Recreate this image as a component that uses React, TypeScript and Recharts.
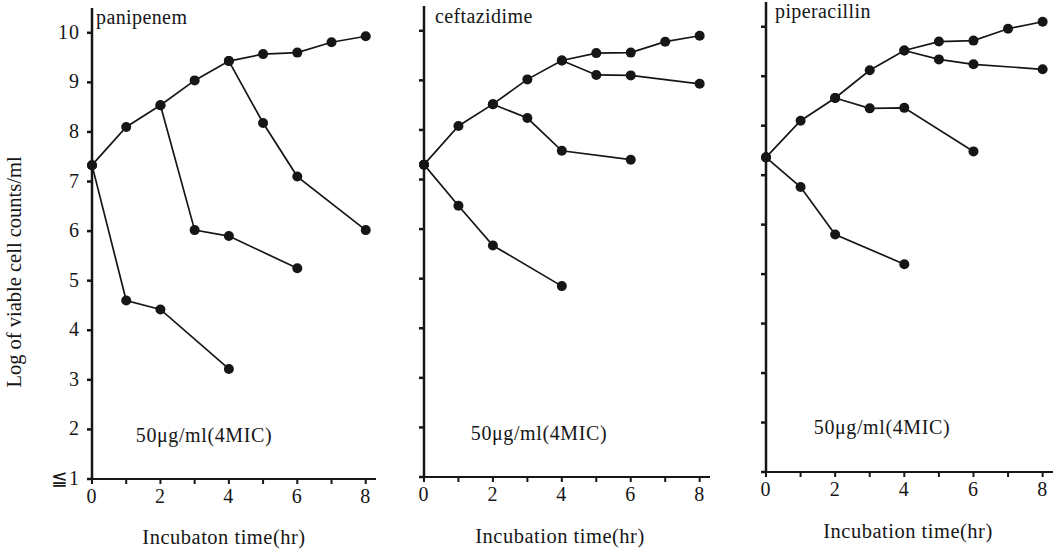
import { Line, LineChart, XAxis, YAxis } from "recharts";

// sampling times (hr)
const hours = [0, 1, 2, 3, 4, 5, 6, 7, 8];
const addedAt0Hours = [0, 1, 2, 4];
const addedAt2Hours = [2, 3, 4, 6];
const addedAt4Hours = [4, 5, 6, 8];

const xTicks = [0, 1, 2, 3, 4, 5, 6, 7, 8];
const yTicks = [1, 2, 3, 4, 5, 6, 7, 8, 9, 10];

// log viable cell counts/ml
const panipenemControl = [7.33, 8.1, 8.54, 9.04, 9.43, 9.57, 9.6, 9.81, 9.93];
const panipenemAt0 = [7.33, 4.6, 4.42, 3.22];
const panipenemAt2 = [8.54, 6.02, 5.9, 5.25];
const panipenemAt4 = [9.43, 8.18, 7.1, 6.02];

const ceftazidimeControl = [7.3, 8.08, 8.52, 9.02, 9.4, 9.55, 9.56, 9.78, 9.9];
const ceftazidimeAt0 = [7.3, 6.47, 5.67, 4.85];
const ceftazidimeAt2 = [8.52, 8.24, 7.58, 7.4];
const ceftazidimeAt4 = [9.4, 9.11, 9.1, 8.93];

const piperacillinControl = [7.36, 8.1, 8.56, 9.12, 9.52, 9.7, 9.72, 9.96, 10.1];
const piperacillinAt0 = [7.36, 6.76, 5.8, 5.2];
const piperacillinAt2 = [8.56, 8.35, 8.36, 7.48];
const piperacillinAt4 = [9.52, 9.34, 9.24, 9.14];

const FONT = '"Liberation Serif", "DejaVu Serif", serif';
const INK = "#161616";

const toPoints = (times: number[], values: number[]) =>
  times.map((t, i) => ({ t, v: values[i] }));

const XTick = ({ x, y, payload }: any) =>
  payload.value % 2 === 0 ? (
    <text
      x={x}
      y={y}
      dy={13}
      textAnchor="middle"
      fill={INK}
      letterSpacing={1}
      style={{ fontFamily: FONT, fontSize: 20 }}
    >
      {payload.value}
    </text>
  ) : null;

const makeYTick = (show: boolean) => ({ x, y, payload }: any) =>
  show ? (
    <text
      x={x}
      y={y}
      dy={6}
      textAnchor="end"
      fill={INK}
      letterSpacing={1}
      style={{ fontFamily: FONT, fontSize: 20 }}
    >
      {payload.value === 1 ? "≦1" : payload.value}
    </text>
  ) : null;

interface PanelProps {
  left: number;
  width: number;
  axisWidth: number;
  top: number;
  axisHeight: number;
  right: number;
  showYLabels: boolean;
  series: { t: number; v: number }[][];
}

const Panel = ({ left, width, axisWidth, top, axisHeight, right, showYLabels, series }: PanelProps) => (
  <div style={{ position: "absolute", left, top: 0, fontFamily: FONT }}>
    <LineChart width={width} height={553} margin={{ top, right, bottom: 0, left: 0 }} style={{ fontFamily: FONT }}>
      <XAxis
        type="number"
        dataKey="t"
        domain={[0, 8.3]}
        ticks={xTicks}
        height={axisHeight}
        tickSize={5}
        tickMargin={6}
        stroke={INK}
        strokeWidth={2}
        tick={<XTick />}
        allowDuplicatedCategory={false}
      />
      <YAxis
        type="number"
        dataKey="v"
        domain={[1, 10.5]}
        ticks={yTicks}
        width={axisWidth}
        tickSize={5}
        tickMargin={7}
        stroke={INK}
        strokeWidth={2.5}
        tick={makeYTick(showYLabels)}
      />
      {series.map((pts, i) => (
        <Line
          key={i}
          data={pts}
          dataKey="v"
          type="linear"
          stroke={INK}
          strokeWidth={1.7}
          dot={{ r: 5, fill: INK, stroke: INK, strokeWidth: 0 }}
          activeDot={false}
          isAnimationActive={false}
        />
      ))}
    </LineChart>
  </div>
);

const titles = [
  { x: 96, y: 18, text: "panipenem", anchor: "start", size: 20, spacing: 0.4 },
  { x: 435, y: 17, text: "ceftazidime", anchor: "start", size: 20, spacing: 0.4 },
  { x: 775, y: 12, text: "piperacillin", anchor: "start", size: 20, spacing: 0.4 },
  { x: 204, y: 436, text: "50μg/ml(4MIC)", anchor: "middle", size: 20, spacing: 0.6 },
  { x: 539, y: 434, text: "50μg/ml(4MIC)", anchor: "middle", size: 20, spacing: 0.6 },
  { x: 882, y: 428, text: "50μg/ml(4MIC)", anchor: "middle", size: 20, spacing: 0.6 },
  { x: 224, y: 538, text: "Incubaton time(hr)", anchor: "middle", size: 20.5, spacing: 0.5 },
  { x: 560, y: 537, text: "Incubation time(hr)", anchor: "middle", size: 20.5, spacing: 0.5 },
  { x: 908, y: 532, text: "Incubation time(hr)", anchor: "middle", size: 20.5, spacing: 0.5 },
];

export default function App() {
  return (
    <div
      style={{
        position: "absolute",
        left: 0,
        top: 0,
        width: 1062,
        height: 553,
        background: "#fff",
        overflow: "hidden",
      }}
    >
      <Panel
        left={0}
        width={400}
        axisWidth={92}
        top={8}
        axisHeight={74}
        right={24}
        showYLabels
        series={[
          toPoints(hours, panipenemControl),
          toPoints(addedAt0Hours, panipenemAt0),
          toPoints(addedAt2Hours, panipenemAt2),
          toPoints(addedAt4Hours, panipenemAt4),
        ]}
      />
      <Panel
        left={400}
        width={330}
        axisWidth={24}
        top={6}
        axisHeight={76}
        right={20}
        showYLabels={false}
        series={[
          toPoints(hours, ceftazidimeControl),
          toPoints(addedAt0Hours, ceftazidimeAt0),
          toPoints(addedAt2Hours, ceftazidimeAt2),
          toPoints(addedAt4Hours, ceftazidimeAt4),
        ]}
      />
      <Panel
        left={730}
        width={332}
        axisWidth={36}
        top={2}
        axisHeight={81}
        right={9}
        showYLabels={false}
        series={[
          toPoints(hours, piperacillinControl),
          toPoints(addedAt0Hours, piperacillinAt0),
          toPoints(addedAt2Hours, piperacillinAt2),
          toPoints(addedAt4Hours, piperacillinAt4),
        ]}
      />

      <svg
        width={1062}
        height={553}
        style={{ position: "absolute", left: 0, top: 0, pointerEvents: "none" }}
      >
        {titles.map((t, i) => (
          <text
            key={i}
            x={t.x}
            y={t.y}
            dy={6}
            textAnchor={t.anchor}
            fill={INK}
            letterSpacing={t.spacing}
            style={{ fontFamily: FONT, fontSize: t.size }}
          >
            {t.text}
          </text>
        ))}
        <text
          transform="translate(21, 272) rotate(-90)"
          textAnchor="middle"
          fill={INK}
          style={{ fontFamily: FONT, fontSize: 20.5 }}
        >
          Log of viable cell counts/ml
        </text>
      </svg>
    </div>
  );
}
